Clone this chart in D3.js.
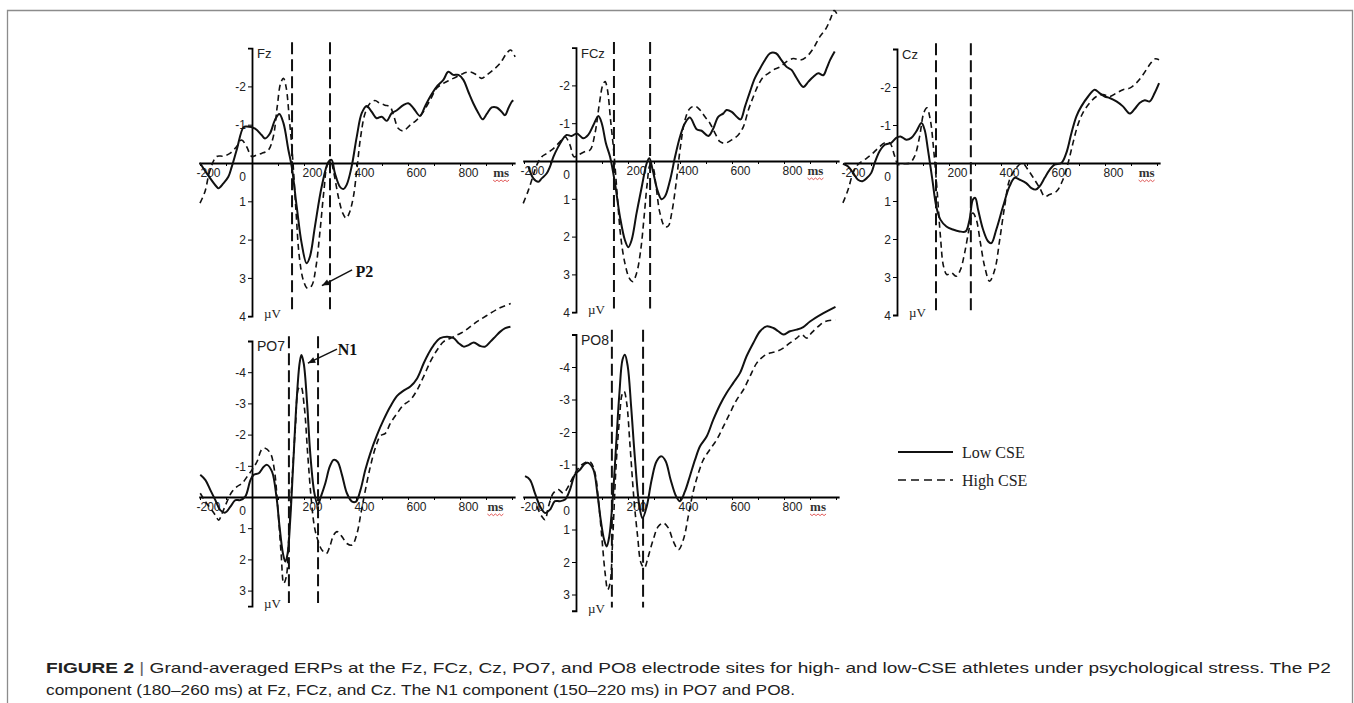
<!DOCTYPE html>
<html>
<head>
<meta charset="utf-8">
<script src="https://cdn.jsdelivr.net/npm/d3@7"></script>
<style>
  body { margin: 0; background: #fff; }
</style>
</head>
<body>
<svg id="chart" width="1354" height="703" font-family="Arial, 'Liberation Sans', sans-serif"></svg>
<script>
// [ms, µV] (negative is plotted up)
var fzLow = [[-200,0.0],[-174,0.27],[-136,0.62],[-129,0.66],[-110,0.53],[-91,0.36],[-78,0.1],[-59,-0.34],[-33,-0.93],[-21,-0.95],[12,-0.9],[37,-0.73],[50,-0.64],[69,-0.77],[88,-1.12],[105,-1.28],[121,-1.04],[140,-0.34],[153,0.1],[172,1.14],[191,2.1],[210,2.62],[223,2.44],[242,1.66],[268,0.62],[294,-0.03],[306,-0.08],[319,0.27],[338,0.62],[351,0.68],[364,0.57],[383,0.1],[403,-0.69],[422,-1.3],[441,-1.49],[460,-1.34],[479,-1.17],[499,-1.21],[518,-1.1],[537,-1.3],[556,-1.37],[582,-1.51],[601,-1.56],[621,-1.43],[646,-1.23],[665,-1.47],[685,-1.73],[710,-1.99],[736,-2.17],[755,-2.38],[774,-2.3],[794,-2.3],[813,-2.17],[832,-1.86],[851,-1.56],[871,-1.3],[887,-1.14],[903,-1.28],[922,-1.45],[941,-1.45],[960,-1.34],[973,-1.25],[986,-1.43],[999,-1.6],[1005,-1.64]];
var fzHigh = [[-200,1.05],[-181,0.75],[-162,0.2],[-136,-0.17],[-110,-0.18],[-85,-0.25],[-59,-0.43],[-40,-0.6],[-21,-0.43],[-1,-0.17],[18,-0.21],[37,-0.25],[63,-0.34],[82,-0.69],[97,-1.47],[110,-2.08],[121,-2.21],[131,-1.99],[144,-1.12],[156,-0.17],[169,1.23],[182,2.45],[197,3.05],[213,3.27],[229,3.21],[246,2.71],[262,1.75],[277,0.7],[290,0.05],[303,-0.03],[315,0.27],[332,0.88],[349,1.31],[362,1.44],[374,1.31],[390,0.88],[403,0.18],[418,-0.69],[435,-1.3],[454,-1.56],[473,-1.63],[492,-1.56],[512,-1.51],[531,-1.47],[546,-1.21],[563,-0.9],[582,-0.84],[608,-0.99],[633,-1.12],[659,-1.34],[685,-1.64],[710,-1.95],[736,-2.08],[762,-2.17],[787,-2.25],[813,-2.34],[838,-2.38],[864,-2.3],[883,-2.21],[903,-2.3],[928,-2.43],[954,-2.6],[979,-2.86],[995,-2.95],[1012,-2.77]];

var fczLow = [[-183,0.15],[-164,0.46],[-145,0.55],[-132,0.46],[-113,0.33],[-100,0.15],[-87,-0.11],[-68,-0.38],[-49,-0.6],[-36,-0.69],[-17,-0.66],[3,-0.73],[28,-0.6],[47,-0.69],[67,-0.95],[86,-1.19],[99,-1.0],[115,-0.47],[131,-0.11],[150,0.59],[169,1.47],[188,2.09],[201,2.28],[214,2.09],[233,1.38],[253,0.68],[272,0.06],[282,-0.07],[295,0.24],[313,0.77],[329,1.01],[342,0.94],[362,0.5],[381,-0.11],[400,-0.64],[419,-1.0],[438,-1.15],[464,-0.84],[483,-0.8],[509,-0.66],[528,-0.86],[547,-1.17],[567,-1.26],[579,-1.35],[599,-1.3],[618,-1.17],[633,-1.1],[650,-1.44],[669,-1.83],[688,-2.19],[708,-2.45],[727,-2.67],[746,-2.85],[769,-2.85],[790,-2.67],[810,-2.49],[829,-2.41],[849,-2.19],[874,-1.96],[894,-2.1],[913,-2.23],[932,-2.32],[951,-2.27],[964,-2.45],[977,-2.67],[995,-2.9]];
var fczHigh = [[-203,1.12],[-183,0.77],[-164,0.37],[-151,0.11],[-132,-0.11],[-113,-0.2],[-87,-0.33],[-62,-0.51],[-42,-0.64],[-23,-0.42],[-8,-0.11],[9,-0.16],[35,-0.25],[54,-0.29],[73,-0.73],[90,-1.52],[103,-2.01],[112,-2.1],[121,-1.88],[133,-1.08],[146,-0.2],[159,0.94],[172,2.0],[188,2.7],[205,3.1],[218,3.19],[233,2.97],[249,2.35],[262,1.47],[274,0.59],[285,0.11],[295,0.15],[308,0.68],[323,1.38],[342,1.74],[355,1.72],[368,1.38],[385,0.59],[400,-0.29],[419,-1.08],[438,-1.39],[458,-1.45],[477,-1.35],[496,-1.17],[515,-1.0],[535,-0.73],[554,-0.51],[573,-0.47],[599,-0.56],[624,-0.69],[644,-0.91],[663,-1.35],[682,-1.7],[701,-2.01],[721,-2.23],[740,-2.32],[759,-2.41],[785,-2.49],[810,-2.63],[836,-2.71],[862,-2.67],[887,-2.76],[913,-2.98],[938,-3.29],[962,-3.51],[980,-3.78],[993,-3.98],[1003,-3.9]];

var czLow = [[-208,0.02],[-188,0.09],[-169,0.26],[-150,0.44],[-133,0.48],[-115,0.39],[-99,0.26],[-86,0.0],[-67,-0.31],[-47,-0.48],[-22,-0.53],[-3,-0.66],[13,-0.7],[36,-0.61],[55,-0.66],[74,-0.83],[94,-1.05],[106,-0.88],[119,-0.35],[136,0.44],[151,1.14],[167,1.49],[190,1.67],[215,1.75],[241,1.8],[264,1.8],[279,1.49],[292,0.96],[301,0.92],[312,1.23],[331,1.75],[350,2.06],[363,2.11],[382,1.75],[408,1.14],[433,0.61],[453,0.39],[472,0.44],[497,0.53],[517,0.66],[533,0.7],[549,0.61],[568,0.39],[587,0.18],[606,0.04],[632,0.0],[651,-0.26],[671,-0.79],[690,-1.23],[709,-1.49],[735,-1.75],[760,-1.93],[779,-1.84],[799,-1.75],[818,-1.71],[844,-1.62],[869,-1.49],[895,-1.3],[914,-1.42],[933,-1.58],[953,-1.65],[972,-1.62],[991,-1.84],[1008,-2.1]];
var czHigh = [[-208,1.05],[-188,0.7],[-169,0.26],[-150,0.04],[-124,-0.09],[-99,-0.22],[-73,-0.39],[-47,-0.53],[-28,-0.53],[-9,-0.18],[4,0.04],[23,0.02],[49,0.0],[68,-0.18],[87,-0.7],[103,-1.32],[115,-1.45],[128,-1.14],[141,-0.35],[154,0.7],[167,1.93],[179,2.72],[192,2.94],[209,2.89],[228,2.98],[244,2.81],[260,2.37],[277,1.75],[292,1.32],[305,1.49],[321,2.11],[337,2.72],[356,3.11],[376,2.81],[395,2.02],[414,1.14],[433,0.44],[459,0.13],[482,0.0],[504,0.18],[529,0.44],[549,0.66],[568,0.88],[587,0.83],[613,0.75],[638,0.44],[658,0.0],[677,-0.53],[696,-1.01],[715,-1.32],[741,-1.58],[767,-1.75],[792,-1.8],[818,-1.75],[844,-1.84],[869,-1.93],[895,-1.97],[921,-2.11],[946,-2.32],[972,-2.59],[991,-2.74],[1008,-2.72]];

var po7Low = [[-199,-0.71],[-179,-0.54],[-160,-0.22],[-141,0.1],[-122,0.42],[-103,0.5],[-83,0.31],[-64,0.1],[-45,0.1],[-26,-0.01],[-6,-0.54],[6,-0.71],[26,-0.76],[45,-0.97],[58,-1.03],[77,-0.81],[94,-0.01],[106,0.95],[119,1.81],[128,2.07],[137,1.81],[147,0.74],[158,-0.97],[171,-3.0],[183,-4.28],[190,-4.55],[199,-4.28],[212,-3.0],[224,-1.4],[240,-0.12],[253,0.26],[265,-0.01],[282,-0.44],[299,-0.97],[314,-1.19],[329,-1.13],[346,-0.71],[365,-0.12],[385,0.15],[400,0.15],[417,-0.22],[436,-0.87],[455,-1.4],[481,-1.99],[506,-2.47],[532,-2.9],[558,-3.24],[583,-3.41],[609,-3.54],[635,-3.8],[660,-4.28],[679,-4.6],[699,-4.87],[724,-5.09],[750,-5.14],[776,-5.09],[795,-4.93],[814,-4.82],[833,-4.87],[853,-4.95],[878,-4.84],[897,-4.82],[917,-4.98],[936,-5.14],[955,-5.3],[974,-5.41],[994,-5.46]];
var po7High = [[-199,-0.12],[-179,0.15],[-160,0.36],[-141,0.58],[-128,0.74],[-115,0.52],[-96,0.15],[-77,-0.17],[-58,-0.33],[-38,-0.44],[-19,-0.65],[0,-0.87],[19,-1.13],[38,-1.53],[51,-1.56],[71,-1.4],[86,-0.87],[99,0.31],[112,1.81],[122,2.77],[132,2.55],[141,1.38],[154,-0.54],[167,-2.25],[179,-3.48],[188,-3.54],[201,-2.9],[214,-1.4],[227,-0.01],[240,0.95],[253,1.38],[269,1.7],[286,1.81],[299,1.59],[314,1.22],[327,1.11],[346,1.27],[365,1.49],[385,1.54],[404,1.16],[419,0.52],[436,-0.22],[455,-0.97],[474,-1.56],[494,-1.96],[513,-2.04],[532,-2.36],[558,-2.68],[583,-2.95],[609,-3.11],[635,-3.43],[660,-3.86],[686,-4.34],[712,-4.71],[737,-4.98],[763,-5.09],[788,-5.19],[814,-5.3],[840,-5.46],[865,-5.62],[900,-5.8],[950,-6.05],[995,-6.2]];

var po8Low = [[-196,-0.64],[-177,-0.53],[-158,-0.12],[-138,0.29],[-119,0.49],[-100,0.39],[-81,0.13],[-62,0.13],[-42,0.08],[-23,-0.23],[-4,-0.69],[15,-0.84],[35,-1.03],[47,-1.05],[67,-0.84],[82,-0.12],[95,0.7],[108,1.31],[118,1.52],[128,1.21],[141,0.08],[154,-1.56],[167,-3.2],[179,-4.23],[188,-4.38],[199,-4.02],[212,-2.79],[227,-1.15],[244,0.29],[256,0.65],[272,0.29],[291,-0.53],[310,-1.1],[329,-1.25],[345,-1.1],[364,-0.53],[385,-0.02],[400,0.13],[419,-0.17],[438,-0.64],[458,-1.15],[477,-1.56],[503,-1.87],[528,-2.38],[554,-2.84],[579,-3.2],[605,-3.51],[631,-3.82],[656,-4.33],[682,-4.74],[708,-5.1],[733,-5.25],[759,-5.2],[778,-5.1],[797,-5.0],[823,-5.1],[849,-5.15],[874,-5.23],[900,-5.4],[950,-5.65],[998,-5.85]];
var po8High = [[-151,0.29],[-132,0.59],[-119,0.7],[-106,0.29],[-87,-0.12],[-68,-0.23],[-49,-0.12],[-29,-0.33],[-10,-0.64],[15,-0.94],[38,-1.07],[56,-1.07],[73,-0.74],[86,0.08],[99,1.21],[112,2.34],[122,2.85],[131,2.65],[141,1.31],[154,-0.94],[167,-2.38],[177,-3.15],[185,-3.25],[195,-2.89],[208,-1.56],[223,0.08],[237,1.21],[250,2.03],[263,2.18],[278,1.83],[297,1.31],[317,0.9],[336,0.8],[355,0.95],[374,1.36],[394,1.62],[413,1.31],[432,0.59],[451,-0.17],[471,-0.74],[490,-1.15],[515,-1.46],[541,-1.76],[567,-2.17],[592,-2.58],[618,-2.99],[644,-3.3],[669,-3.71],[695,-4.12],[721,-4.33],[746,-4.43],[772,-4.48],[797,-4.58],[823,-4.74],[849,-4.89],[868,-5.0],[887,-4.89],[906,-5.05],[932,-5.25],[958,-5.4],[998,-5.45]];

// component windows drawn as dashed verticals (ms)
var fzMarkers = [154, 300];
var fczMarkers = [146, 285];
var czMarkers = [150, 284];
var po7Markers = [142, 254];
var po8Markers = [138, 258];

var xTickLabels = [-200, 200, 400, 600, 800];
var topYTicks = [-2, -1, 0, 1, 2, 3, 4];
var bottomYTicks = [-4, -3, -2, -1, 0, 1, 2, 3];
var seriesNames = ["Low CSE", "High CSE"];

var panels = [
  { name: "Fz", low: fzLow, high: fzHigh, markers: fzMarkers, yTicks: topYTicks, yDomain: [-3, 4], x0: 252, y0: 163, ky: 38.3, msAt: 958, fs: 13 },
  { name: "FCz", low: fczLow, high: fczHigh, markers: fczMarkers, yTicks: topYTicks, yDomain: [-3, 4], x0: 576, y0: 161, ky: 37.8, msAt: 921, fs: 13 },
  { name: "Cz", low: czLow, high: czHigh, markers: czMarkers, yTicks: topYTicks, yDomain: [-3, 4], x0: 897, y0: 163, ky: 38, msAt: 960, fs: 13 },
  { name: "PO7", low: po7Low, high: po7High, markers: po7Markers, yTicks: bottomYTicks, yDomain: [-5, 3.5], x0: 252, y0: 497, ky: 31.2, msAt: 936, fs: 14 },
  { name: "PO8", low: po8Low, high: po8High, markers: po8Markers, yTicks: bottomYTicks, yDomain: [-5, 3.5], x0: 576, y0: 497, ky: 32.5, msAt: 931, fs: 14 }
];
var kx = 0.26;

var sans = "Arial, 'Liberation Sans', sans-serif";
var serif = "'Liberation Serif', 'DejaVu Serif', serif";

var svg = d3.select("#chart");

// outer frame
svg.append("path")
  .attr("d", "M7.5,710 V10.5 H1352.5 V710")
  .attr("fill", "none")
  .attr("stroke", "#8c8c8c")
  .attr("stroke-width", 1.3);

panels.forEach(function(p) {
  var x = d3.scaleLinear()
    .domain([-205, 1012])
    .range([p.x0 - 205 * kx, p.x0 + 1012 * kx]);
  var y = d3.scaleLinear()
    .domain(p.yDomain)
    .range([p.y0 + p.yDomain[0] * p.ky, p.y0 + p.yDomain[1] * p.ky]);

  var g = svg.append("g").attr("class", "panel");

  // x axis: line + minor ticks
  var xa = g.append("g")
    .attr("transform", `translate(0, ${y(0)})`)
    .call(d3.axisBottom(x).tickValues(d3.range(-200, 1001, 100)).tickSize(3).tickSizeOuter(0).tickFormat(""));
  xa.select(".domain").attr("stroke-width", 1.8);
  xa.selectAll(".tick line").attr("stroke-width", 1);

  var xl = g.append("g")
    .attr("transform", `translate(0, ${y(0)})`)
    .call(d3.axisBottom(x).tickValues(xTickLabels).tickSize(0).tickPadding(5).tickFormat(d => String(d)));
  xl.select(".domain").remove();
  xl.selectAll("text")
    .attr("dx", 8)
    .attr("font-size", 12)
    .attr("font-family", sans)
    .attr("fill", "#222");

  // y axis
  var ya = g.append("g")
    .attr("transform", `translate(${x(0)}, 0)`)
    .call(d3.axisLeft(y).tickValues(p.yTicks).tickSize(4).tickSizeOuter(4).tickPadding(2).tickFormat(d => String(d)));
  ya.select(".domain").attr("stroke-width", 1.8);
  ya.selectAll("text")
    .attr("font-size", 12)
    .attr("font-family", sans)
    .attr("fill", "#222")
    .attr("dy", d => d === 0 ? "1.45em" : "0.35em");

  // panel label and units
  g.append("text")
    .attr("x", x(0) + 5)
    .attr("y", y(p.yDomain[0]) + 10)
    .attr("font-size", p.fs)
    .attr("font-family", sans)
    .attr("fill", "#222")
    .text(p.name);
  g.append("text")
    .attr("x", x(0) + 12)
    .attr("y", y(p.yDomain[1]) + 2)
    .attr("font-size", 13)
    .attr("font-family", serif)
    .attr("fill", "#222")
    .text("\u00b5V");

  var msX = x(p.msAt);
  g.append("text")
    .attr("x", msX)
    .attr("y", y(0) + 14)
    .attr("text-anchor", "middle")
    .attr("font-size", 13)
    .attr("font-weight", "bold")
    .attr("font-family", serif)
    .attr("fill", "#333")
    .text("ms");
  var wave = d3.range(0, 9).map(i => [msX - 8 + i * 2, y(0) + 17 + (i % 2) * 1.6]);
  g.append("path")
    .attr("d", d3.line()(wave))
    .attr("fill", "none")
    .attr("stroke", "#d83030")
    .attr("stroke-width", 0.8);

  // component window markers
  g.selectAll(".marker")
    .data(p.markers)
    .enter()
    .append("line")
    .attr("class", "marker")
    .attr("x1", d => x(d))
    .attr("x2", d => x(d))
    .attr("y1", y(p.yDomain[0] - 0.15))
    .attr("y2", y(p.yDomain[1] - 0.1))
    .attr("stroke", "#111")
    .attr("stroke-width", 2)
    .attr("stroke-dasharray", "12,5");

  var line = d3.line()
    .x(d => x(d[0]))
    .y(d => y(d[1]))
    .curve(d3.curveCatmullRom.alpha(0.5));

  g.selectAll(".erp")
    .data([p.high, p.low])
    .enter()
    .append("path")
    .attr("class", "erp")
    .attr("d", d => line(d))
    .attr("fill", "none")
    .attr("stroke", "#111")
    .attr("stroke-width", (d, i) => [1.6, 2][i])
    .attr("stroke-dasharray", (d, i) => ["6,4", null][i]);

  p.x = x;
  p.y = y;
});

// component annotations
function arrow(p, text, tx, ty, from, to) {
  var x = p.x, y = p.y;
  svg.append("text")
    .attr("x", x(tx))
    .attr("y", y(ty))
    .attr("font-size", 16)
    .attr("font-weight", "bold")
    .attr("font-family", serif)
    .attr("fill", "#111")
    .text(text);
  var x1 = x(from[0]), y1 = y(from[1]), x2 = x(to[0]), y2 = y(to[1]);
  svg.append("line")
    .attr("x1", x1).attr("y1", y1).attr("x2", x2).attr("y2", y2)
    .attr("stroke", "#111").attr("stroke-width", 1.5);
  var a = Math.atan2(y2 - y1, x2 - x1), h = 8;
  var pts = [[x2, y2],
    [x2 - h * Math.cos(a - 0.4), y2 - h * Math.sin(a - 0.4)],
    [x2 - h * Math.cos(a + 0.4), y2 - h * Math.sin(a + 0.4)]];
  svg.append("path").attr("d", "M" + pts.join("L") + "Z").attr("fill", "#111");
}
arrow(panels[0], "P2", 398, 2.98, [385, 2.79], [269, 3.2]);
arrow(panels[3], "N1", 330, -4.55, [327, -4.74], [215, -4.29]);

// legend
var legend = svg.append("g").attr("transform", "translate(898, 452)");
seriesNames.forEach(function(name, i) {
  legend.append("line")
    .attr("x1", 0).attr("x2", 55)
    .attr("y1", i * 28).attr("y2", i * 28)
    .attr("stroke", "#111")
    .attr("stroke-width", i ? 1.6 : 2)
    .attr("stroke-dasharray", i ? "8,5" : null);
  legend.append("text")
    .attr("x", 64)
    .attr("y", i * 28 + 6)
    .attr("font-size", 16)
    .attr("font-family", serif)
    .attr("fill", "#222")
    .text(name);
});

// caption
var capFont = "'Liberation Sans Narrow', 'Arial Narrow', Arial, sans-serif";
var cap = svg.append("text")
  .attr("x", 46)
  .attr("y", 673)
  .attr("font-size", 14.5)
  .attr("font-family", capFont)
  .attr("fill", "#222")
  .attr("textLength", 1285)
  .attr("lengthAdjust", "spacingAndGlyphs");
cap.append("tspan").attr("font-weight", "bold").text("FIGURE 2");
cap.append("tspan").attr("fill", "#666").text(" | ");
cap.append("tspan").text("Grand-averaged ERPs at the Fz, FCz, Cz, PO7, and PO8 electrode sites for high- and low-CSE athletes under psychological stress. The P2");
svg.append("text")
  .attr("x", 46)
  .attr("y", 695)
  .attr("font-size", 14.5)
  .attr("font-family", capFont)
  .attr("fill", "#222")
  .attr("textLength", 749)
  .attr("lengthAdjust", "spacingAndGlyphs")
  .text("component (180\u2013260 ms) at Fz, FCz, and Cz. The N1 component (150\u2013220 ms) in PO7 and PO8.");
</script>
</body>
</html>
